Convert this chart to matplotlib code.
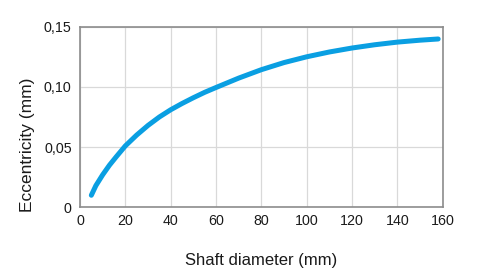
import matplotlib.pyplot as plt
from matplotlib.ticker import FuncFormatter

plt.rcParams['font.family'] = ['Liberation Sans', 'DejaVu Sans']

# curve
diameter = [5, 7, 10, 13, 16, 20, 25, 30, 35, 40, 45, 50, 55, 60, 70, 80, 90, 100, 110, 120, 130, 140, 150, 158]
eccentricity = [0.010, 0.018, 0.027, 0.035, 0.042, 0.051, 0.060, 0.068, 0.075, 0.081, 0.0862, 0.0910,
                0.0955, 0.0995, 0.1073, 0.1143, 0.1202, 0.1250, 0.1290, 0.1323, 0.1350, 0.1372,
                0.1388, 0.1398]

x_ticks = [0, 20, 40, 60, 80, 100, 120, 140, 160]
y_ticks = [0, 0.05, 0.10, 0.15]

fig = plt.figure(figsize=(4.87, 2.79), dpi=100)
ax = fig.add_axes([80 / 487, 1 - 207.3 / 279, 362.7 / 487, 180.6 / 279])

ax.plot(diameter, eccentricity, color='#0a9fe2', lw=3.6, solid_capstyle='round', zorder=3)

ax.set_xlim(0, 160)
ax.set_ylim(0, 0.15)
ax.set_xticks(x_ticks)
ax.set_yticks(y_ticks)
ax.yaxis.set_major_formatter(FuncFormatter(lambda v, p: '0' if v == 0 else f'{v:.2f}'.replace('.', ',')))
ax.tick_params(length=0, labelsize=10.3, colors='#1a1a1a', pad=5)
ax.tick_params(axis='y', pad=6)
ax.grid(True, color='#d9d9d9', lw=0.9)
ax.set_axisbelow(True)
for s in ax.spines.values():
    s.set_color('#8c8c8c')
    s.set_linewidth(1.2)

ax.set_xlabel('Shaft diameter (mm)', fontsize=12, color='#1a1a1a', labelpad=18)
ax.set_ylabel('Eccentricity (mm)', fontsize=12.5, color='#1a1a1a')
ax.yaxis.set_label_coords(-0.124, 0.345)

fig.savefig('out.png', dpi=100)
